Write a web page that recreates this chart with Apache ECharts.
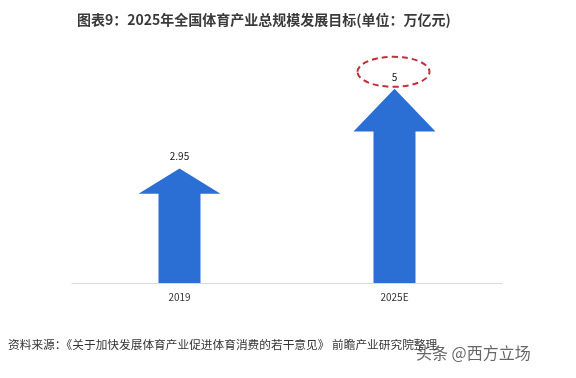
<!DOCTYPE html>
<html><head><meta charset="utf-8">
<script src="https://cdn.jsdelivr.net/npm/echarts@6/dist/echarts.min.js"></script>
<style>html,body{margin:0;padding:0;background:#fff}#c{width:576px;height:378px}</style>
</head><body><div id="c"></div>
<script>
const titleText = '图表9：2025年全国体育产业总规模发展目标(单位：万亿元)';
const sourceText = '资料来源：《关于加快发展体育产业促进体育消费的若干意见》 前瞻产业研究院整理';
const categories = ['2019', '2025E'];
const values = [2.95, 5];
const highlightIndex = 1;

const arrowPath = 'path://M41,0 L82,22 L62,22 L62,100 L20,100 L20,22 L0,22 Z';
const chart = echarts.init(document.getElementById('c'), null, {renderer: 'canvas'});
const FONT = '"Noto Sans CJK SC", "Noto Sans", sans-serif';
const baseGraphics = [
  {type: 'text', left: 8, top: 339, style: {text: sourceText, font: '11.7px ' + FONT, fill: '#333'}},
  {type: 'text', left: 416, top: 345, style: {text: '头条 @西方立场', font: '16px ' + FONT, fill: '#333', opacity: 0.75}}
];
chart.setOption({
  animation: false,
  backgroundColor: '#fff',
  title: {
    text: titleText, left: 72, top: 8,
    textStyle: {fontFamily: FONT, fontSize: 14, fontWeight: 'bold', color: '#3a3a3a'}
  },
  grid: {left: 72, right: 74, top: 50, bottom: 95},
  xAxis: {
    type: 'category', data: categories,
    axisLine: {lineStyle: {color: '#d9d9d9', width: 1}},
    axisTick: {show: false},
    axisLabel: {fontFamily: FONT, fontSize: 10, color: '#333', margin: 9}
  },
  yAxis: {type: 'value', min: 0, max: 6, show: false, splitLine: {show: false}},
  series: [{
    type: 'pictorialBar',
    data: values,
    symbol: arrowPath,
    symbolSize: [82, '100%'],
    symbolPosition: 'start',
    symbolRepeat: false,
    itemStyle: {color: '#2B6FD5'},
    label: {show: true, position: 'top', distance: 7, fontFamily: FONT, fontSize: 10, color: '#111'}
  }],
  graphic: baseGraphics
});
const p = chart.convertToPixel({seriesIndex: 0}, [categories[highlightIndex], values[highlightIndex]]);
chart.setOption({
  graphic: baseGraphics.concat([
    {type: 'ellipse', shape: {cx: p[0] - 1, cy: p[1] - 17, rx: 36, ry: 15},
     style: {fill: 'none', stroke: '#C0303A', lineWidth: 2, lineDash: [6, 4]}}
  ])
}, {replaceMerge: ['graphic']});
</script></body></html>
